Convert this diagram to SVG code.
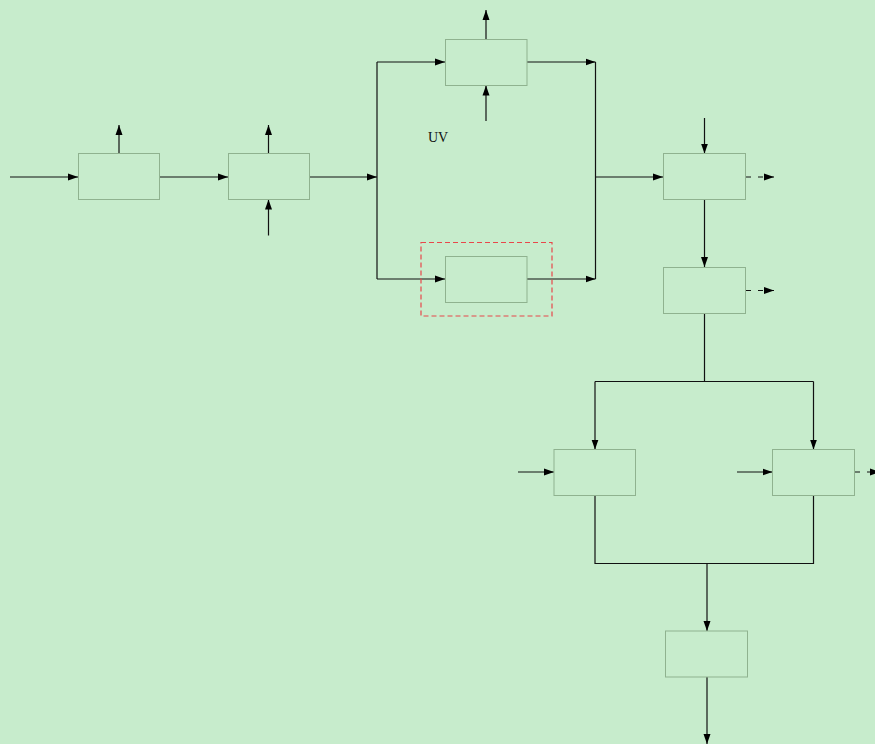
<svg xmlns="http://www.w3.org/2000/svg" width="875" height="744" viewBox="0 0 875 744">
<defs>
<marker id="ah" markerUnits="userSpaceOnUse" markerWidth="10" markerHeight="8" refX="10" refY="4" orient="auto">
<path d="M0,0.5 L10,4 L0,7.5 Z" fill="#000"/>
</marker>
<style>
.box{fill:none;stroke:#8fb28f;stroke-width:1}
.ln{fill:none;stroke:#111;stroke-width:1.2}
.ar{fill:none;stroke:#111;stroke-width:1.2;marker-end:url(#ah)}
.da{fill:none;stroke:#111;stroke-width:1.2;stroke-dasharray:5 7;marker-end:url(#ah)}
.sel{fill:none;stroke:#e8474a;stroke-width:1.2;stroke-dasharray:5 3}
.t{font-family:"Liberation Serif",serif;font-size:14px;fill:#111}
</style>
</defs>
<rect width="875" height="744" fill="#c7eccc"/>
<g id="connectors">
<path class="ar" d="M10,177 H78"/>
<path class="ar" d="M119,153.5 V125"/>
<path class="ar" d="M159.5,177 H228"/>
<path class="ar" d="M268.5,153.5 V125"/>
<path class="ar" d="M268.5,235.5 V199.5"/>
<path class="ar" d="M309.5,177 H377"/>
<path class="ln" d="M377,177 V62"/>
<path class="ln" d="M377,177 V279"/>
<path class="ar" d="M377,62 H445"/>
<path class="ar" d="M377,279 H445"/>
<path class="ar" d="M486,39.5 V10"/>
<path class="ar" d="M486,121 V85.5"/>
<path class="ar" d="M527,62 H595.5"/>
<path class="ar" d="M527,279 H595.5"/>
<path class="ln" d="M595.5,62 V279"/>
<path class="ar" d="M595.5,177 H663"/>
<path class="ar" d="M704.5,118 V153.5"/>
<path class="da" d="M746,177 H774"/>
<path class="ar" d="M704.5,199.5 V267"/>
<path class="da" d="M746,290.5 H774"/>
<path class="ln" d="M704.5,313.5 V381.5 M595,381.5 H813.5"/>
<path class="ar" d="M595,381.5 V449.5"/>
<path class="ar" d="M813.5,381.5 V449.5"/>
<path class="ar" d="M518,472 H554"/>
<path class="ar" d="M737,472 H772.5"/>
<path class="da" d="M855,472 H880"/>
<path class="ln" d="M595,495.5 V563.5 H813.5 V495.5"/>
<path class="ar" d="M707,563.5 V631"/>
<path class="ar" d="M707,677 V744"/>
</g>
<g id="n1"><rect class="box" x="78.5" y="153.5" width="81" height="46"/></g>
<g id="n2"><rect class="box" x="228.5" y="153.5" width="81" height="46"/></g>
<g id="n3"><rect class="box" x="445.5" y="39.5" width="81.5" height="46"/></g>
<g id="n4"><rect class="sel" x="421" y="242.5" width="131" height="73.5"/><rect class="box" x="445.5" y="256.5" width="81.5" height="46"/></g>
<g id="uv"><text class="t" x="428" y="142">UV</text></g>
<g id="n5"><rect class="box" x="663.5" y="153.5" width="82" height="46"/></g>
<g id="n6"><rect class="box" x="663.5" y="267.5" width="82" height="46"/></g>
<g id="n7"><rect class="box" x="554" y="449.5" width="81.5" height="46"/></g>
<g id="n8"><rect class="box" x="772.5" y="449.5" width="82" height="46"/></g>
<g id="n9"><rect class="box" x="665.5" y="631" width="82" height="46"/></g>
</svg>
